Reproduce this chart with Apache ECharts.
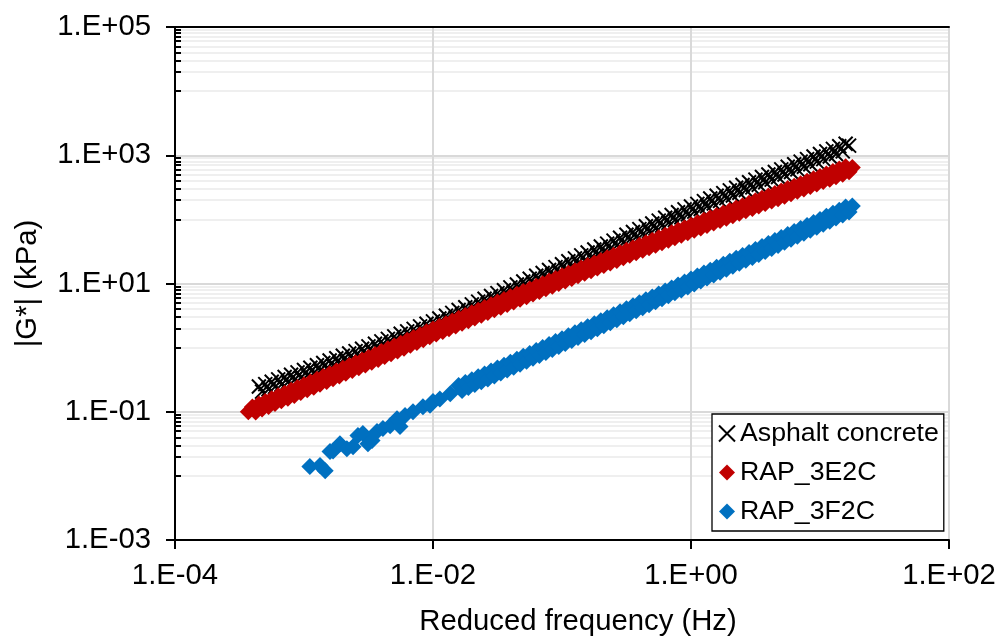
<!DOCTYPE html>
<html>
<head>
<meta charset="utf-8">
<script src="https://cdn.jsdelivr.net/npm/echarts@6/dist/echarts.min.js"></script>
<style>
  html, body { margin: 0; padding: 0; background: #fff; }
  #chart { width: 1005px; height: 641px; }
</style>
</head>
<body>
<div id="chart"></div>
<script>
// Dynamic modulus master curves: [reduced frequency (Hz), |G*| (kPa)]
const asphaltConcrete = [
  [4.47e-4,0.248],[4.73e-4,0.206],[5.01e-4,0.270],[5.31e-4,0.224],[5.62e-4,0.294],[5.96e-4,0.244],
  [6.31e-4,0.320],[6.68e-4,0.265],[7.08e-4,0.348],[7.50e-4,0.288],[7.94e-4,0.378],[8.41e-4,0.313],
  [8.91e-4,0.411],[9.44e-4,0.340],[1.00e-3,0.447],[1.06e-3,0.370],[1.12e-3,0.486],[1.19e-3,0.403],
  [1.26e-3,0.530],[1.33e-3,0.439],[1.41e-3,0.577],[1.50e-3,0.478],[1.58e-3,0.628],[1.68e-3,0.521],
  [1.78e-3,0.684],[1.88e-3,0.567],[2.00e-3,0.745],[2.11e-3,0.617],[2.24e-3,0.811],[2.37e-3,0.672],
  [2.51e-3,0.883],[2.66e-3,0.732],[2.82e-3,0.962],[2.99e-3,0.797],[3.16e-3,1.047],[3.35e-3,0.870],
  [3.55e-3,1.146],[3.76e-3,0.952],[3.98e-3,1.253],[4.22e-3,1.041],[4.47e-3,1.371],[4.73e-3,1.139],
  [5.01e-3,1.500],[5.31e-3,1.246],[5.62e-3,1.641],[5.96e-3,1.363],[6.31e-3,1.795],[6.68e-3,1.491],
  [7.08e-3,1.963],[7.50e-3,1.631],[7.94e-3,2.148],[8.41e-3,1.784],[8.91e-3,2.350],[9.44e-3,1.952],
  [0.0100,2.570],[0.0106,2.148],[0.0112,2.844],[0.0119,2.377],[0.0126,3.148],[0.0133,2.630],
  [0.0141,3.483],[0.0150,2.911],[0.0158,3.855],[0.0168,3.221],[0.0178,4.266],[0.0188,3.565],
  [0.0200,4.721],[0.0211,3.945],[0.0224,5.224],[0.0237,4.365],[0.0251,5.781],[0.0266,4.831],
  [0.0282,6.397],[0.0299,5.346],[0.0316,7.079],[0.0335,5.922],[0.0355,7.852],[0.0376,6.569],
  [0.0398,8.710],[0.0422,7.286],[0.0447,9.661],[0.0473,8.082],[0.0501,10.72],[0.0531,8.966],
  [0.0562,11.89],[0.0596,9.943],[0.0631,13.18],[0.0668,11.03],[0.0708,14.62],[0.0750,12.23],
  [0.0794,16.22],[0.0841,13.57],[0.0891,17.99],[0.0944,15.05],[0.100,19.95],[0.106,16.71],
  [0.112,22.18],[0.119,18.58],[0.126,24.66],[0.133,20.65],[0.141,27.42],[0.150,22.96],
  [0.158,30.48],[0.168,25.53],[0.178,33.88],[0.188,28.38],[0.200,37.67],[0.211,31.55],
  [0.224,41.88],[0.237,35.08],[0.251,46.56],[0.266,38.99],[0.282,51.76],[0.299,43.35],
  [0.316,57.54],[0.335,48.08],[0.355,63.68],[0.376,53.21],[0.398,70.47],[0.422,58.88],
  [0.447,77.98],[0.473,65.16],[0.501,86.30],[0.531,72.11],[0.562,95.50],[0.596,79.80],
  [0.631,105.7],[0.668,88.31],[0.708,116.9],[0.750,97.72],[0.794,129.4],[0.841,108.1],
  [0.891,143.2],[0.944,119.7],[1.00,158.5],[1.06,132.1],[1.12,174.6],[1.19,145.5],
  [1.26,192.3],[1.33,160.3],[1.41,211.8],[1.50,176.6],[1.58,233.3],[1.68,194.5],
  [1.78,257.0],[1.88,214.3],[2.00,283.1],[2.11,236.0],[2.24,311.9],[2.37,260.0],
  [2.51,343.6],[2.66,286.4],[2.82,378.4],[2.99,315.5],[3.16,416.9],[3.35,346.7],
  [3.55,457.1],[3.76,380.2],[3.98,501.2],[4.22,416.9],[4.47,549.5],[4.73,457.1],
  [5.01,602.6],[5.31,501.2],[5.62,660.7],[5.96,549.5],[6.31,724.4],[6.68,602.6],
  [7.08,794.3],[7.50,660.7],[7.94,871.0],[8.41,724.4],[8.91,955.0],[9.44,794.3],
  [10.0,1047],[10.6,871.0],[11.2,1148],[11.9,955.0],[12.6,1259],[13.3,1047],
  [14.1,1380],[15.0,1148],[15.8,1514],[16.8,1413]
];
const rap3E2C = [
  [3.70e-4,0.100],[3.98e-4,0.119],[4.22e-4,0.0994],[4.47e-4,0.132],[4.73e-4,0.110],[5.01e-4,0.145],
  [5.31e-4,0.121],[5.62e-4,0.160],[5.96e-4,0.134],[6.31e-4,0.177],[6.68e-4,0.148],[7.08e-4,0.195],
  [7.50e-4,0.163],[7.94e-4,0.216],[8.41e-4,0.180],[8.91e-4,0.238],[9.44e-4,0.199],[1.00e-3,0.263],
  [1.06e-3,0.220],[1.12e-3,0.290],[1.19e-3,0.242],[1.26e-3,0.321],[1.33e-3,0.268],[1.41e-3,0.354],
  [1.50e-3,0.296],[1.58e-3,0.391],[1.68e-3,0.326],[1.78e-3,0.432],[1.88e-3,0.360],[2.00e-3,0.476],
  [2.11e-3,0.398],[2.24e-3,0.526],[2.37e-3,0.439],[2.51e-3,0.581],[2.66e-3,0.485],[2.82e-3,0.641],
  [2.99e-3,0.535],[3.16e-3,0.708],[3.35e-3,0.592],[3.55e-3,0.783],[3.76e-3,0.655],[3.98e-3,0.867],
  [4.22e-3,0.724],[4.47e-3,0.959],[4.73e-3,0.802],[5.01e-3,1.062],[5.31e-3,0.887],[5.62e-3,1.175],
  [5.96e-3,0.982],[6.31e-3,1.300],[6.68e-3,1.086],[7.08e-3,1.439],[7.50e-3,1.202],[7.94e-3,1.592],
  [8.41e-3,1.330],[8.91e-3,1.762],[9.44e-3,1.472],[0.0100,1.950],[0.0106,1.626],[0.0112,2.148],
  [0.0119,1.791],[0.0126,2.366],[0.0133,1.972],[0.0141,2.606],[0.0150,2.173],[0.0158,2.871],
  [0.0168,2.393],[0.0178,3.162],[0.0188,2.636],[0.0200,3.483],[0.0211,2.904],[0.0224,3.837],
  [0.0237,3.199],[0.0251,4.227],[0.0266,3.524],[0.0282,4.656],[0.0299,3.882],[0.0316,5.129],
  [0.0335,4.271],[0.0355,5.636],[0.0376,4.694],[0.0398,6.194],[0.0422,5.158],[0.0447,6.808],
  [0.0473,5.668],[0.0501,7.482],[0.0531,6.231],[0.0562,8.222],[0.0596,6.847],[0.0631,9.036],
  [0.0668,7.525],[0.0708,9.931],[0.0750,8.270],[0.0794,10.91],[0.0841,9.089],[0.0891,11.99],
  [0.0944,9.988],[0.100,13.18],[0.106,10.96],[0.112,14.45],[0.119,12.02],[0.126,15.85],
  [0.133,13.18],[0.141,17.38],[0.150,14.45],[0.158,19.05],[0.168,15.85],[0.178,20.89],
  [0.188,17.38],[0.200,22.91],[0.211,19.05],[0.224,25.12],[0.237,20.89],[0.251,27.54],
  [0.266,22.91],[0.282,30.20],[0.299,25.12],[0.316,33.11],[0.335,27.51],[0.355,36.22],
  [0.376,30.10],[0.398,39.63],[0.422,32.92],[0.447,43.35],[0.473,36.02],[0.501,47.42],
  [0.531,39.40],[0.562,51.88],[0.596,43.10],[0.631,56.75],[0.668,47.15],[0.708,62.09],
  [0.750,51.58],[0.794,67.92],[0.841,56.43],[0.891,74.30],[0.944,61.73],[1.00,81.28],
  [1.06,67.45],[1.12,88.72],[1.19,73.62],[1.26,96.83],[1.33,80.35],[1.41,105.7],
  [1.50,87.70],[1.58,115.3],[1.68,95.71],[1.78,125.9],[1.88,104.5],[2.00,137.4],
  [2.11,114.0],[2.24,150.0],[2.37,124.5],[2.51,163.7],[2.66,135.8],[2.82,178.6],
  [2.99,148.3],[3.16,195.0],[3.35,161.8],[3.55,212.8],[3.76,176.6],[3.98,232.3],
  [4.22,192.8],[4.47,253.5],[4.73,210.4],[5.01,276.7],[5.31,229.6],[5.62,302.0],
  [5.96,250.6],[6.31,329.6],[6.68,273.5],[7.08,359.7],[7.50,298.5],[7.94,392.6],
  [8.41,325.8],[8.91,428.5],[9.44,355.6],[10.0,467.7],[10.6,388.1],[11.2,510.5],
  [11.9,423.6],[12.6,557.2],[13.3,462.4],[14.1,608.1],[15.0,504.7],[15.8,663.7],
  [16.8,550.8],[17.8,645.7]
];
const rap3F2C = [
  [1.11e-3,0.0140],[1.33e-3,0.0145],[1.46e-3,0.0120],[1.59e-3,0.0240],[1.68e-3,0.0245],[1.90e-3,0.0316],
  [2.15e-3,0.0266],[2.40e-3,0.0285],[2.62e-3,0.0427],[2.86e-3,0.0457],[3.13e-3,0.0316],[3.37e-3,0.0355],
  [3.68e-3,0.0490],[4.09e-3,0.0550],[4.65e-3,0.0603],[5.26e-3,0.0776],[5.55e-3,0.0589],[6.07e-3,0.0871],
  [7.00e-3,0.100],[8.36e-3,0.120],[9.48e-3,0.126],[0.0100,0.145],[0.0113,0.158],[0.0136,0.191],
  [0.0158,0.257],[0.0168,0.215],[0.0178,0.285],[0.0188,0.239],[0.0200,0.316],[0.0211,0.265],
  [0.0224,0.351],[0.0237,0.293],[0.0251,0.389],[0.0266,0.325],[0.0282,0.432],[0.0299,0.361],
  [0.0316,0.479],[0.0335,0.401],[0.0355,0.532],[0.0376,0.446],[0.0398,0.592],[0.0422,0.495],
  [0.0447,0.658],[0.0473,0.551],[0.0501,0.731],[0.0531,0.612],[0.0562,0.813],[0.0596,0.681],
  [0.0631,0.904],[0.0668,0.757],[0.0708,1.005],[0.0750,0.841],[0.0794,1.117],[0.0841,0.935],
  [0.0891,1.242],[0.0944,1.040],[0.100,1.380],[0.106,1.157],[0.112,1.538],[0.119,1.288],
  [0.126,1.710],[0.133,1.434],[0.141,1.905],[0.150,1.596],[0.158,2.118],[0.168,1.776],
  [0.178,2.360],[0.188,1.977],[0.200,2.624],[0.211,2.200],[0.224,2.924],[0.237,2.449],
  [0.251,3.251],[0.266,2.726],[0.282,3.622],[0.299,3.034],[0.316,4.027],[0.335,3.378],
  [0.355,4.487],[0.376,3.758],[0.398,4.989],[0.422,4.183],[0.447,5.559],[0.473,4.656],
  [0.501,6.180],[0.531,5.183],[0.562,6.887],[0.596,5.768],[0.631,7.656],[0.668,6.420],
  [0.708,8.531],[0.750,7.145],[0.794,9.484],[0.841,7.952],[0.891,10.57],[0.944,8.851],
  [1.00,11.75],[1.06,9.840],[1.12,13.06],[1.19,10.94],[1.26,14.52],[1.33,12.16],
  [1.41,16.14],[1.50,13.52],[1.58,17.95],[1.68,15.03],[1.78,19.95],[1.88,16.71],
  [2.00,22.18],[2.11,18.58],[2.24,24.66],[2.37,20.65],[2.51,27.42],[2.66,22.96],
  [2.82,30.48],[2.99,25.53],[3.16,33.88],[3.35,28.42],[3.55,37.76],[3.76,31.66],
  [3.98,42.07],[4.22,35.28],[4.47,46.88],[4.73,39.30],[5.01,52.24],[5.31,43.81],
  [5.62,58.21],[5.96,48.82],[6.31,64.86],[6.68,54.39],[7.08,72.28],[7.50,60.60],
  [7.94,80.54],[8.41,67.52],[8.91,89.74],[9.44,75.25],[10.0,100.0],[10.6,83.95],
  [11.2,111.7],[11.9,93.76],[12.6,124.7],[13.3,104.7],[14.1,139.3],[15.0,116.9],
  [15.8,155.6],[16.8,130.6],[17.8,162.2]
];

const seriesNames = ['Asphalt concrete', 'RAP_3E2C', 'RAP_3F2C'];

// Axis ticks (decades) and their labels
const xTickValues = [1e-4, 1e-2, 1, 1e2];
const xTickLabels = ['1.E-04', '1.E-02', '1.E+00', '1.E+02'];
const yTickValues = [1e-3, 1e-1, 1e1, 1e3, 1e5];
const yTickLabels = ['1.E-03', '1.E-01', '1.E+01', '1.E+03', '1.E+05'];
// Minor gridlines / ticks on the modulus axis
const yMinorValues = [
  0.01, 0.02, 0.03, 0.04, 0.05, 0.06, 0.07, 0.08, 0.09,
  1, 2, 3, 4, 5, 6, 7, 8, 9,
  100, 200, 300, 400, 500, 600, 700, 800, 900,
  10000, 20000, 30000, 40000, 50000, 60000, 70000, 80000, 90000
];

const lg = Math.log10;
const toLog = arr => arr.map(([f, g]) => [lg(f), lg(g)]);
const labelFor = (values, labels) => v => {
  const i = values.findIndex(t => Math.abs(lg(t) - v) < 1e-6);
  return i >= 0 ? labels[i] : '';
};

const FONT = '"Liberation Sans", Arial, sans-serif';
const AXIS_FS = 29.3;
const LEGEND_FS = 26.7;
const crossPath = 'path://M0,0L10,10M10,0L0,10';

const chart = echarts.init(document.getElementById('chart'), null, { renderer: 'canvas' });

chart.setOption({
  animation: false,
  backgroundColor: '#fff',
  textStyle: { fontFamily: FONT, color: '#000' },
  grid: { left: 175, right: 56, top: 27, bottom: 99, containLabel: false },
  legend: {
    orient: 'vertical',
    left: 712,
    top: 414,
    padding: [0, 5, 0, 6],
    itemGap: 0,
    itemWidth: 16,
    itemHeight: 16,
    backgroundColor: '#fff',
    borderColor: '#000',
    borderWidth: 1.3,
    borderRadius: 0,
    textStyle: { fontFamily: FONT, fontSize: LEGEND_FS, lineHeight: 39, color: '#000' },
    data: seriesNames
  },
  xAxis: [
    {
      type: 'value',
      min: lg(xTickValues[0]),
      max: lg(xTickValues[xTickValues.length - 1]),
      interval: 2,
      name: 'Reduced frequency (Hz)',
      nameLocation: 'middle',
      nameGap: 67,
      nameTextStyle: { fontFamily: FONT, fontSize: AXIS_FS, color: '#000', padding: [0, 0, 0, 32] },
      axisLine: { onZero: false, lineStyle: { color: '#000', width: 2 } },
      axisTick: { show: true, inside: false, length: 9, lineStyle: { color: '#000', width: 2 } },
      axisLabel: {
        fontFamily: FONT, fontSize: AXIS_FS, color: '#000', margin: 21,
        formatter: labelFor(xTickValues, xTickLabels)
      },
      splitLine: { show: true, lineStyle: { color: '#d9d9d9', width: 2 } }
    },
    {
      type: 'value',
      position: 'top',
      min: lg(xTickValues[0]),
      max: lg(xTickValues[xTickValues.length - 1]),
      axisLine: { show: true, onZero: false, lineStyle: { color: '#000', width: 2 } },
      axisTick: { show: false },
      axisLabel: { show: false },
      splitLine: { show: false }
    }
  ],
  yAxis: [
    {
      type: 'value',
      min: lg(yTickValues[0]),
      max: lg(yTickValues[yTickValues.length - 1]),
      interval: 2,
      name: '|G*| (kPa)',
      nameLocation: 'middle',
      nameGap: 133,
      nameTextStyle: { fontFamily: FONT, fontSize: AXIS_FS, color: '#000' },
      axisLine: { show: true, onZero: false, lineStyle: { color: '#000', width: 2 } },
      axisTick: {
        show: true, inside: false, length: 9,
        customValues: yTickValues.map(lg),
        lineStyle: { color: '#000', width: 2 }
      },
      axisLabel: {
        fontFamily: FONT, fontSize: AXIS_FS, color: '#000', margin: 24,
        customValues: yTickValues.map(lg),
        formatter: labelFor(yTickValues, yTickLabels)
      },
      splitLine: { show: true, lineStyle: { color: '#d9d9d9', width: 2 } }
    },
    {
      type: 'value',
      position: 'left',
      offset: 0,
      min: lg(yTickValues[0]),
      max: lg(yTickValues[yTickValues.length - 1]),
      axisLine: { show: false, onZero: false },
      axisTick: {
        show: true, inside: true, length: 6,
        customValues: yMinorValues.map(lg),
        lineStyle: { color: '#000', width: 2 }
      },
      axisLabel: { show: false },
      splitLine: { show: true, lineStyle: { color: '#efefef', width: 2 } }
    }
  ],
  series: [
    {
      name: seriesNames[0],
      type: 'scatter',
      symbol: crossPath,
      symbolSize: 14,
      itemStyle: { color: '#000', borderColor: '#000', borderWidth: 2, opacity: 1 },
      data: toLog(asphaltConcrete)
    },
    {
      name: seriesNames[1],
      type: 'scatter',
      symbol: 'diamond',
      symbolSize: 17,
      itemStyle: { color: '#C00000', opacity: 1 },
      data: toLog(rap3E2C)
    },
    {
      name: seriesNames[2],
      type: 'scatter',
      symbol: 'diamond',
      symbolSize: 17,
      itemStyle: { color: '#0070C0', opacity: 1 },
      data: toLog(rap3F2C)
    }
  ]
});
</script>
</body>
</html>
